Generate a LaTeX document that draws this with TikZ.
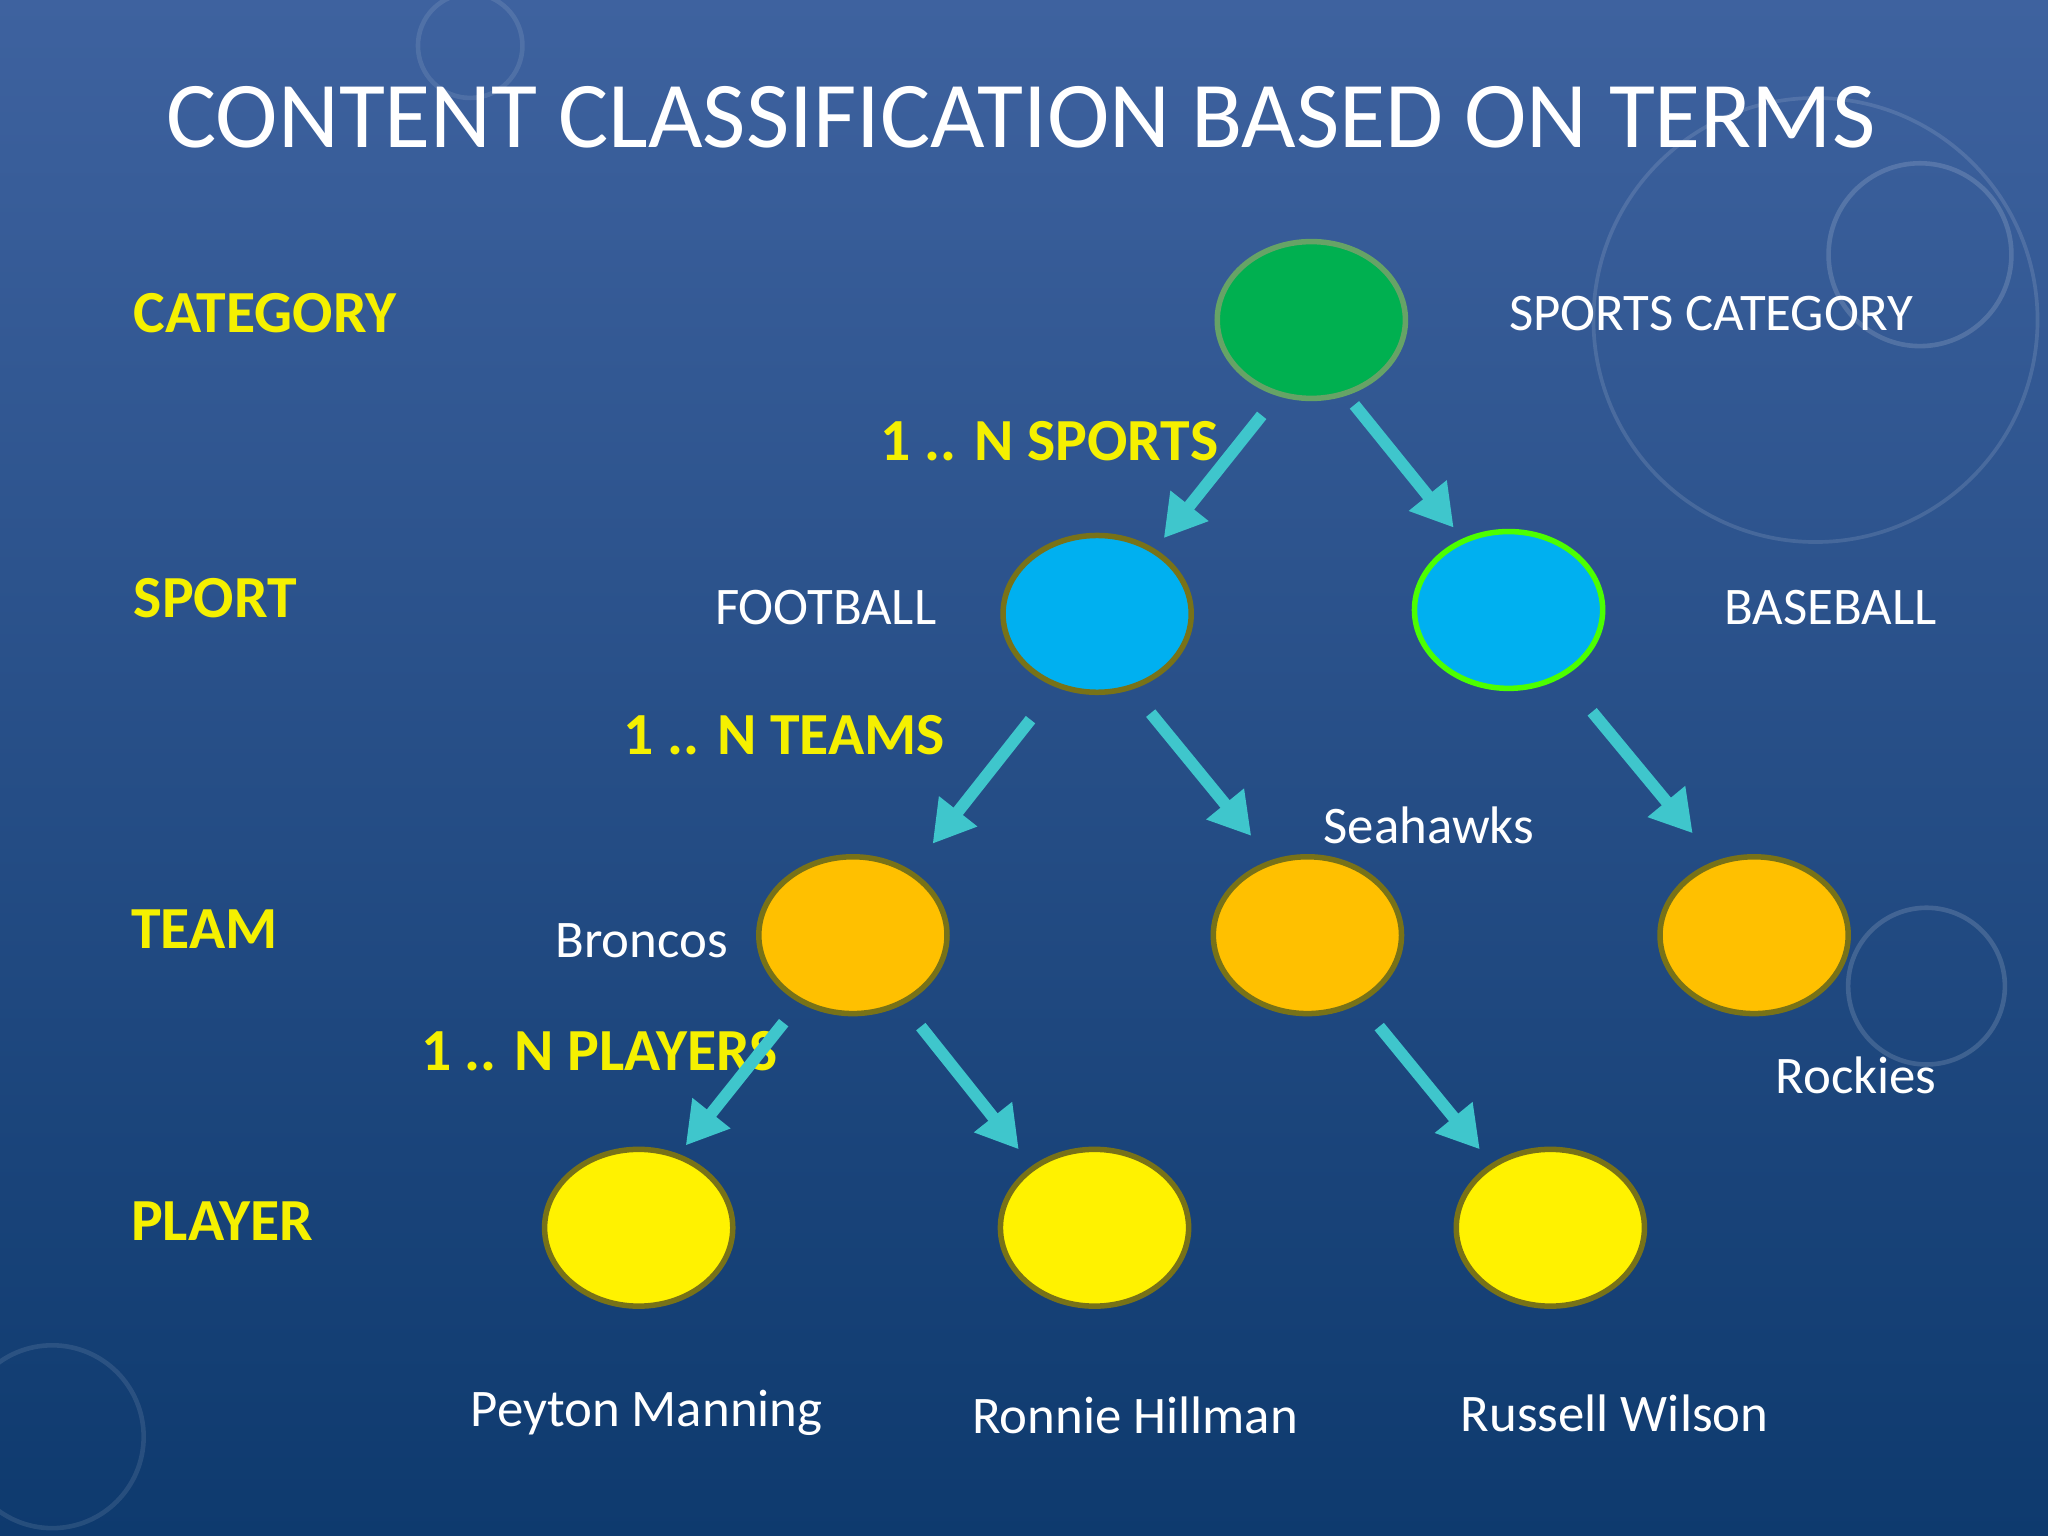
\documentclass[tikz,border=0pt]{standalone}
\usepackage{fontspec}
\setmainfont{Carlito}
\usetikzlibrary{arrows.meta,shapes.geometric}
\definecolor{bgtop}{HTML}{3E629F}
\definecolor{bgbot}{HTML}{0E3A6E}
\definecolor{arr}{HTML}{3FC6CC}
\definecolor{lvl}{HTML}{F5F000}
\begin{document}
\begin{tikzpicture}[x=0.01cm,y=-0.01cm,
  el/.style={ellipse,draw=#1,line width=1.2pt,minimum width=1.44cm,minimum height=1.2cm},
  lvltxt/.style={text=lvl,font=\bfseries\fontsize{13}{15}\selectfont,anchor=west},
  wtxt/.style={text=white,font=\fontsize{11.5}{14}\selectfont},
  arw/.style={draw=arr,line width=2.6pt,-{Triangle[length=9pt,width=10pt]}}]
\useasboundingbox (0,0) rectangle (1568,1176);
\shade[top color=bgtop,bottom color=bgbot] (0,0) rectangle (1568,1176);
\draw[white,opacity=0.15,line width=1pt] (1470,195) circle (70);
\draw[white,opacity=0.12,line width=0.8pt] (1390,245) circle (170);
\draw[white,opacity=0.15,line width=1pt] (1475,755) circle (60);
\draw[white,opacity=0.1,line width=1pt] (40,1100) circle (70);
\draw[white,opacity=0.1,line width=1pt] (360,35) circle (40);
\node[text=white,font=\fontsize{20.5}{24}\selectfont,anchor=west] (title) at (115,90) {CONTENT CLASSIFICATION BASED ON TERMS};
\node[lvltxt] (lc) at (90,240) {CATEGORY};
\node[lvltxt] (ls) at (90,458) {SPORT};
\node[lvltxt] (lt) at (88,711) {TEAM};
\node[lvltxt] (lp) at (88,935) {PLAYER};
\node[lvltxt] (n1) at (662,338) {1 .. N SPORTS};
\node[lvltxt] (n2) at (465,563) {1 .. N TEAMS};
\node[lvltxt] (n3) at (310,805) {1 .. N PLAYERS};
\node[el={green!40!black!60},fill={rgb,255:red,0;green,176;blue,80}] (cat) at (1004,245) {};
\node[el={olive!80!black},fill={rgb,255:red,0;green,176;blue,240}] (fb) at (840,470) {};
\node[el={green!70!yellow},fill={rgb,255:red,0;green,176;blue,240}] (bb) at (1155,467) {};
\node[el={olive!80!black},fill={rgb,255:red,255;green,192;blue,0}] (t1) at (653,716) {};
\node[el={olive!80!black},fill={rgb,255:red,255;green,192;blue,0}] (t2) at (1001,716) {};
\node[el={olive!80!black},fill={rgb,255:red,255;green,192;blue,0}] (t3) at (1343,716) {};
\node[el={olive!80!black},fill=yellow] (p1) at (489,940) {};
\node[el={olive!80!black},fill=yellow] (p2) at (838,940) {};
\node[el={olive!80!black},fill=yellow] (p3) at (1187,940) {};
\node[wtxt,anchor=west] (sc) at (1143,240) {SPORTS CATEGORY};
\node[wtxt,anchor=west] (fbl) at (535,465) {FOOTBALL};
\node[wtxt,anchor=west] (bbl) at (1308,465) {BASEBALL};
\node[wtxt,anchor=west] (t1l) at (413,720) {Broncos};
\node[wtxt,anchor=west] (t2l) at (1001,632) {Seahawks};
\node[wtxt,anchor=west] (t3l) at (1347,823) {Rockies};
\node[wtxt,anchor=west] (p1l) at (348,1082) {Peyton Manning};
\node[wtxt,anchor=west] (p2l) at (732,1084) {Ronnie Hillman};
\node[wtxt,anchor=west] (p3l) at (1106,1082) {Russell Wilson};
\coordinate (a1s) at (966,318); \coordinate (a1e) at (891,412);
\coordinate (a2s) at (1037,310); \coordinate (a2e) at (1113,404);
\coordinate (a3s) at (789,551); \coordinate (a3e) at (714,646);
\coordinate (a4s) at (881,546); \coordinate (a4e) at (958,640);
\coordinate (a5s) at (1219,545); \coordinate (a5e) at (1296,638);
\coordinate (a6s) at (600,783); \coordinate (a6e) at (525,877);
\coordinate (a7s) at (705,786); \coordinate (a7e) at (780,880);
\coordinate (a8s) at (1056,786); \coordinate (a8e) at (1133,880);
\foreach \i in {1,...,8}{\draw[arw] (a\i s) -- (a\i e);}
\end{tikzpicture}
\end{document}
